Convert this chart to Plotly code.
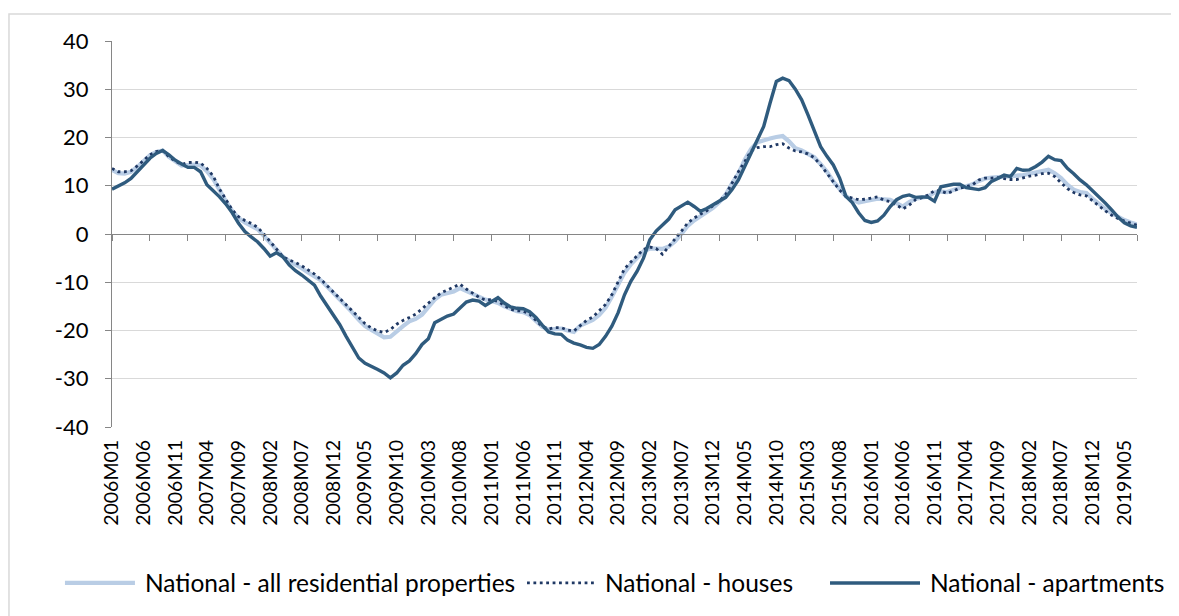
import plotly.graph_objects as go

months = [f"{y}M{m:02d}" for y in range(2006, 2020) for m in range(1, 13)][:163]
tick_labels = months[::5]
y_tick_values = [-40, -30, -20, -10, 0, 10, 20, 30, 40]
y_tick_text = ["-40", "-30", "-20", "-10", "0", "10", "20", "30", "40"]
series_names = [
    "National - all residential properties",
    "National - houses",
    "National - apartments",
]

all_residential = [
    13.3, 12.6, 12.5, 12.9, 13.9, 15.1, 16.3, 17.0, 17.3, 16.0,
    15.0, 14.2, 14.3, 14.4, 14.2, 13.0, 11.4, 9.0, 6.8, 4.8,
    3.3, 2.4, 1.8, 1.0, -0.4, -1.9, -3.4, -4.7, -5.6, -6.3,
    -7.1, -8.0, -8.7, -9.6, -10.9, -12.2, -13.5, -14.8, -16.3, -17.8,
    -19.1, -19.9, -20.6, -21.4, -21.3, -20.1, -19.1, -18.1, -17.6, -16.7,
    -15.3, -13.6, -12.6, -12.2, -11.9, -11.2, -11.8, -12.4, -13.1, -13.6,
    -13.9, -14.3, -15.0, -15.6, -16.0, -16.2, -16.8, -18.0, -19.2, -19.8,
    -19.7, -19.6, -20.0, -20.3, -19.0, -18.4, -17.8, -16.8, -15.3, -13.0,
    -10.3, -8.0, -6.3, -5.0, -3.6, -3.0, -3.0, -3.1, -2.6, -1.5,
    0.0, 1.7, 2.8, 3.6, 4.4, 5.4, 6.6, 8.2, 10.5, 12.5,
    15.4, 17.6, 19.0, 19.5, 19.8, 20.1, 20.3, 19.2, 17.8, 17.3,
    16.7, 15.9, 14.5, 12.9, 10.9, 9.2, 7.8, 7.1, 6.5, 6.8,
    7.1, 7.3, 7.2, 7.1, 6.4, 5.7, 6.6, 7.3, 7.5, 7.8,
    8.6, 8.8, 8.7, 9.2, 9.6, 9.9, 10.3, 11.0, 11.5, 11.7,
    11.8, 11.8, 11.8, 11.9, 12.2, 12.5, 12.8, 13.1, 13.3, 12.6,
    11.6, 10.2, 9.2, 8.7, 8.5, 7.3, 6.2, 5.2, 4.3, 3.5,
    2.9, 2.4, 2.0,
]

houses = [
    13.6, 12.9, 12.9, 13.1, 14.1, 15.3, 16.4, 17.1, 17.3, 16.0,
    15.1, 14.4, 14.8, 14.9, 14.7, 13.6, 12.0, 9.3, 7.0, 5.0,
    3.6, 2.8, 2.2, 1.4, 0.0, -1.6, -3.3, -4.7, -5.4, -5.9,
    -6.6, -7.5, -8.3, -9.4, -10.7, -11.9, -13.2, -14.6, -16.0, -17.2,
    -18.6, -19.5, -20.1, -20.4, -19.8, -18.7, -17.9, -17.3, -16.6, -15.5,
    -14.3, -13.2, -12.2, -11.6, -11.0, -10.4, -11.4, -12.3, -13.1, -13.7,
    -13.6, -14.0, -14.8, -15.6, -15.9, -16.0, -16.6, -17.9, -19.2, -19.7,
    -19.4, -19.4, -19.9, -20.1, -18.9, -17.9, -17.2, -16.0, -14.6, -12.6,
    -9.8, -7.2, -5.8, -4.4, -3.2, -2.7, -3.0, -4.2, -2.6, -1.2,
    0.6, 2.3, 3.3, 4.1, 4.8, 5.9, 6.8, 8.2, 10.7, 12.9,
    15.0, 17.2, 17.9, 18.1, 18.1, 18.5, 18.7, 17.8, 17.2, 17.0,
    16.6, 15.8, 14.3, 12.5, 10.7, 9.1, 7.8, 7.5, 7.1, 7.2,
    7.5, 7.7, 7.0, 6.7, 6.0, 5.2, 6.0, 7.1, 7.5, 8.1,
    9.0, 8.9, 8.4, 9.0, 9.5, 9.8, 10.2, 11.2, 11.6, 11.6,
    11.7, 11.5, 11.3, 11.3, 11.7, 12.0, 12.2, 12.5, 12.6, 11.9,
    10.6, 9.4, 8.6, 8.1, 7.9, 6.8, 5.7, 4.8, 3.9, 3.2,
    2.7, 2.2, 1.8,
]

apartments = [
    9.3, 9.9, 10.6, 11.5, 12.9, 14.3, 15.7, 16.7, 17.3, 16.4,
    15.3, 14.5, 13.8, 13.8, 12.9, 10.2, 9.0, 7.7, 6.2, 4.4,
    2.2, 0.5, -0.6, -1.6, -3.0, -4.6, -3.9, -4.7, -6.4, -7.6,
    -8.5, -9.5, -10.6, -12.9, -14.8, -16.7, -18.8, -21.2, -23.6, -25.7,
    -26.8, -27.4, -28.1, -28.8, -29.8, -28.8, -27.2, -26.3, -24.8, -22.9,
    -21.7, -18.4, -17.7, -17.0, -16.6, -15.3, -14.1, -13.7, -13.9, -14.8,
    -14.1, -13.2, -14.3, -15.1, -15.4, -15.5, -16.1, -17.3, -18.9, -20.3,
    -20.7, -20.8, -22.0, -22.6, -23.0, -23.5, -23.7, -22.9, -21.2, -19.1,
    -16.3, -12.6, -9.8, -7.7, -5.0, -1.2, 0.6, 1.9, 3.1, 5.0,
    5.9, 6.6, 5.7, 4.7, 5.3, 6.1, 6.9, 7.6, 9.2, 11.2,
    14.0, 16.7, 19.2, 22.3, 27.1, 31.6, 32.3, 31.8, 30.0, 27.8,
    24.7, 21.5, 18.1, 16.1, 14.3, 11.6, 7.8, 6.5, 4.4, 2.8,
    2.4, 2.7, 3.9, 5.7, 7.1, 7.8, 8.1, 7.6, 7.7, 7.6,
    6.8, 9.8, 10.0, 10.3, 10.3, 9.6, 9.4, 9.2, 9.6, 10.9,
    11.5, 12.2, 11.9, 13.6, 13.2, 13.3, 14.0, 14.9, 16.1, 15.4,
    15.2, 13.6, 12.5, 11.2, 10.2, 9.0, 7.7, 6.4, 5.0, 3.5,
    2.3, 1.7, 1.4,
]

AXIS_GREY = "#868686"
GRID_GREY = "#d9d9d9"
FONT = "Lato, 'Liberation Sans', sans-serif"
styles = [
    dict(color="#b9cde5", width=4.2),
    dict(color="#1f3864", width=2.8, dash="2.8px,3.6px"),
    dict(color="#2f5b7e", width=3.4),
]

fig = go.Figure()
fig.add_trace(go.Scatter(x=months, y=all_residential, name=series_names[0],
                         mode="lines", line=styles[0], showlegend=False))
fig.add_trace(go.Scatter(x=months, y=houses, name=series_names[1],
                         mode="lines", line=styles[1], showlegend=False))
fig.add_trace(go.Scatter(x=months, y=apartments, name=series_names[2],
                         mode="lines", line=styles[2], xaxis="x2", showlegend=False))

# legend drawn below the plot (sample line + label per series), paper coordinates
legend_y = -0.404
legend_items = [(-0.0459, 0.0224), (0.4049, 0.4712), (0.7005, 0.7883)]
shapes = [dict(
    type="rect", xref="paper", yref="paper",
    x0=-0.1005, x1=1.08, y0=-0.6, y1=1.0699,
    line=dict(color=GRID_GREY, width=1.5), fillcolor="rgba(0,0,0,0)", layer="below",
)]
annotations = []
for (lx0, lx1), name, st in zip(legend_items, series_names, styles):
    shapes.append(dict(type="line", xref="paper", yref="paper",
                       x0=lx0, x1=lx1, y0=legend_y, y1=legend_y, line=st))
    annotations.append(dict(xref="paper", yref="paper", x=lx1 + 0.0078, y=legend_y,
                            xanchor="left", yanchor="middle", showarrow=False,
                            text=name, font=dict(size=24.5, family=FONT, color="black")))

fig.update_layout(
    width=1171, height=608,
    margin=dict(l=104, r=42, t=33, b=189),
    paper_bgcolor="white", plot_bgcolor="white",
    font=dict(family=FONT, size=21, color="black"),
    showlegend=False,
    xaxis=dict(
        type="category", categoryorder="array", categoryarray=months,
        range=[0, 162], tickmode="array", tickvals=tick_labels, ticktext=tick_labels,
        tickangle=-90, showgrid=False, showline=False, ticks="", zeroline=False,
        ticklabelstandoff=8, tickfont=dict(size=19.5), automargin=False,
    ),
    xaxis2=dict(
        type="category", categoryorder="array", categoryarray=months,
        range=[0, 162], overlaying="x", anchor="free", position=0.5, side="bottom",
        showticklabels=False, showgrid=False, showline=True, linecolor=AXIS_GREY,
        linewidth=1.3, ticks="outside", ticklen=6, tickcolor=AXIS_GREY, tickwidth=1.3,
        tickmode="linear", tick0=0, dtick=6, zeroline=False,
    ),
    yaxis=dict(
        range=[-40, 40], tickmode="array", tickvals=y_tick_values, ticktext=y_tick_text,
        showgrid=True, gridcolor=GRID_GREY, gridwidth=1.3,
        showline=True, linecolor=AXIS_GREY, linewidth=1.3,
        ticks="outside", ticklen=6, tickcolor=AXIS_GREY, tickwidth=1.3,
        zeroline=False, ticklabelstandoff=12, tickfont=dict(size=22), automargin=False,
    ),
    shapes=shapes,
    annotations=annotations,
)

fig.write_html("out.html")
